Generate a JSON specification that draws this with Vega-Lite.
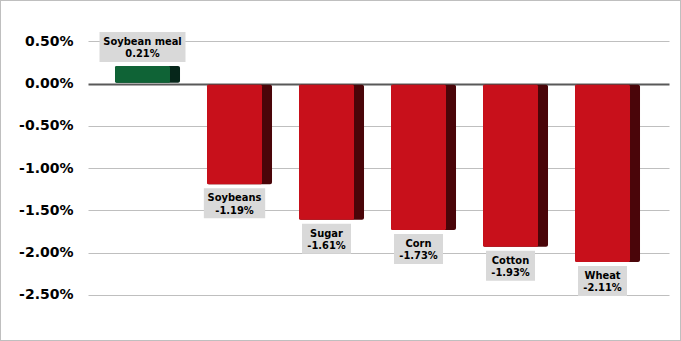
{
  "$schema": "https://vega.github.io/schema/vega-lite/v6.json",
  "width": 681,
  "height": 341,
  "autosize": {"type": "none"},
  "padding": 0,
  "background": "white",
  "config": {
    "view": {"stroke": "#bfbfbf", "strokeWidth": 2}
  },
  "data": {"values": [
    {"name": "Soybean meal", "value": 0.0021},
    {"name": "Soybeans", "value": -0.0119},
    {"name": "Sugar", "value": -0.0161},
    {"name": "Corn", "value": -0.0173},
    {"name": "Cotton", "value": -0.0193},
    {"name": "Wheat", "value": -0.0211}
  ]},
  "encoding": {
    "x": {"field": "name", "type": "nominal", "sort": null, "axis": null,
      "scale": {"domain": ["Soybean meal", "Soybeans", "Sugar", "Corn", "Cotton", "Wheat"], "range": [88, 669], "paddingInner": 0, "paddingOuter": 0.1576, "align": 0.466}},
    "y": {"field": "value", "type": "quantitative",
      "scale": {"domain": [-0.03045, 0.009905], "nice": false, "zero": false},
      "axis": {
        "orient": "left", "offset": -73, "domain": false, "ticks": false, "grid": true,
        "gridColor": {"condition": {"test": "datum.value === 0", "value": "#595959"}, "value": "#bfbfbf"},
        "gridWidth": {"condition": {"test": "datum.value === 0", "value": 2}, "value": 1},
        "labelPadding": 0, "title": null, "labelFlush": false,
        "values": [0.005, 0, -0.005, -0.01, -0.015, -0.02, -0.025],
        "format": ".2%",
        "labelExpr": "replace(datum.label, '\u2212', '-')",
        "labelFont": "DejaVu Sans", "labelFontWeight": "bold", "labelFontSize": 14, "labelColor": "#000000"
      }
    }
  },
  "layer": [
    {
      "transform": [{"filter": "datum.value < 0"}],
      "mark": {"type": "bar", "width": {"band": 0.7065}, "cornerRadius": 2, "y2Offset": 1, "color": "#4a0509"},
      "encoding": {"y2": {"datum": 0}}
    },
    {
      "transform": [{"filter": "datum.value < 0"}],
      "mark": {"type": "bar", "width": 55, "xOffset": -5, "cornerRadius": 1.5, "y2Offset": 1, "color": "#c8101b"},
      "encoding": {"y2": {"datum": 0}}
    },
    {
      "transform": [{"filter": "datum.value > 0"}],
      "mark": {"type": "bar", "width": {"band": 0.7065}, "cornerRadius": 2, "y2Offset": -1, "color": "#06261a"},
      "encoding": {"y2": {"datum": 0}}
    },
    {
      "transform": [{"filter": "datum.value > 0"}],
      "mark": {"type": "bar", "width": 55, "xOffset": -5, "cornerRadius": 1.5, "y2Offset": -1, "color": "#0f6336"},
      "encoding": {"y2": {"datum": 0}}
    },
    {
      "transform": [
        {"filter": "datum.value < 0"},
        {"calculate": "max(length(datum.name), length(format(datum.value, '.2%')))", "as": "boxlen"}
      ],
      "mark": {"type": "bar", "xOffset": -5, "yOffset": 4, "y2Offset": 34, "color": "#d9d9d9"},
      "encoding": {
        "y2": {"field": "value"},
        "size": {"field": "boxlen", "type": "quantitative", "scale": {"domain": [6, 12], "range": [49, 86], "zero": false}, "legend": null}
      }
    },
    {
      "transform": [
        {"filter": "datum.value > 0"},
        {"calculate": "max(length(datum.name), length(format(datum.value, '.2%')))", "as": "boxlen"}
      ],
      "mark": {"type": "bar", "xOffset": -5, "yOffset": -4, "y2Offset": -34, "color": "#d9d9d9"},
      "encoding": {
        "y2": {"field": "value"},
        "size": {"field": "boxlen", "type": "quantitative", "scale": {"domain": [6, 12], "range": [49, 86], "zero": false}, "legend": null}
      }
    },
    {
      "transform": [
        {"filter": "datum.value < 0"},
        {"calculate": "[datum.name, replace(format(datum.value, '.2%'), '\u2212', '-')]", "as": "lbl"}
      ],
      "mark": {"type": "text", "font": "DejaVu Sans Condensed", "fontWeight": "bold", "fontSize": 11, "lineHeight": 12.5, "baseline": "middle", "align": "center", "dx": -5, "dy": 14, "color": "#000000"},
      "encoding": {"text": {"field": "lbl"}}
    },
    {
      "transform": [
        {"filter": "datum.value > 0"},
        {"calculate": "[datum.name, replace(format(datum.value, '.2%'), '\u2212', '-')]", "as": "lbl"}
      ],
      "mark": {"type": "text", "font": "DejaVu Sans Condensed", "fontWeight": "bold", "fontSize": 11, "lineHeight": 12.5, "baseline": "middle", "align": "center", "dx": -5, "dy": -24, "color": "#000000"},
      "encoding": {"text": {"field": "lbl"}}
    }
  ]
}
